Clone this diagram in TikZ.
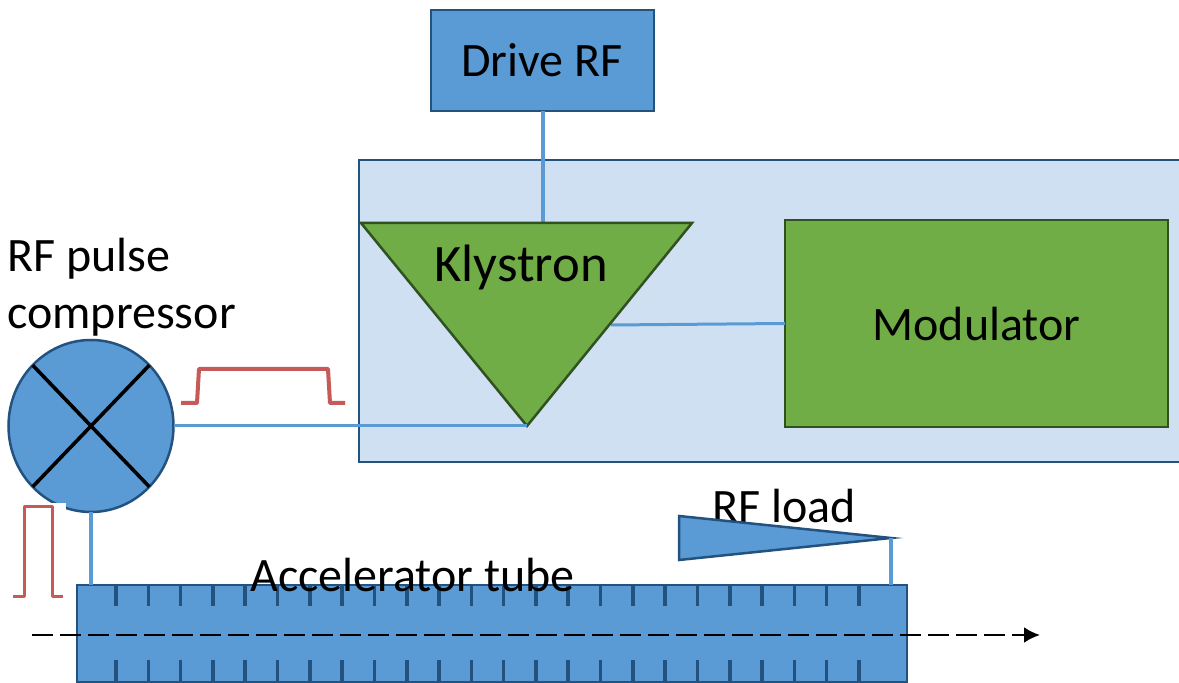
\documentclass[tikz,border=0pt]{standalone}
\usepackage{fontspec}
\setmainfont{Carlito}
\usetikzlibrary{shapes.geometric, arrows.meta}
\definecolor{rfblue}{HTML}{5B9BD5}
\definecolor{rfedge}{HTML}{24527F}
\definecolor{rfpanel}{HTML}{CEE0F2}
\definecolor{rfgreen}{HTML}{70AD47}
\definecolor{rfgreenedge}{HTML}{2F5220}
\definecolor{rfred}{HTML}{C55A56}
\tikzset{
  bluebox/.style={draw=rfedge, fill=rfblue, line width=1.25pt},
  greenbox/.style={draw=rfgreenedge, fill=rfgreen, line width=1.25pt},
  sizedbox/.style={rectangle, inner sep=0pt, outer sep=0pt},
  rfline/.style={draw=rfblue},
  pulseline/.style={draw=rfred, line join=round},
  tubetick/.style={draw=rfedge, line width=1.8pt},
  label/.style={font=\fontsize{24}{24}\selectfont, inner sep=0pt, text=black}
}

\begin{document}
\begin{tikzpicture}[x=0.5pt, y=-0.5pt]
\useasboundingbox (0,0) rectangle (1179,683);
% Klystron and modulator panel
\node[sizedbox, draw=rfedge, fill=rfpanel, line width=1.25pt, minimum width=420pt, minimum height=151pt] (panel) at (779,311) {};
\coordinate (klyLeft) at (361,223);
\coordinate (klyRight) at (692,223);
\coordinate (klyTip) at (527,426);
\coordinate (klyFeed) at (543,223);
\coordinate (klyOut) at (611,325);
% Drive and modulator boxes
\node[sizedbox, bluebox, minimum width=111.5pt, minimum height=50.5pt] (drive) at (542.5,60.5) {};
\node[sizedbox, greenbox, minimum width=191.5pt, minimum height=103.5pt] (modulator) at (976.5,323.5) {};
\node[label, anchor=base] (drivelabel) at (542,77) {Drive RF};
\node[label, anchor=base] (modlabel) at (976.5,341) {Modulator};
% Blue RF lines
\draw[rfline, line width=2pt] (drive.south -| klyFeed) -- (klyFeed);
\draw[rfline, line width=1.5pt] (klyOut) -- (modulator.west);
\draw[greenbox] (klyLeft) -- (klyRight) -- (klyTip) -- cycle;
\node[label, font=\fontsize{26.3}{26.3}\selectfont, anchor=base] (klystron) at (521,282) {Klystron};
% Pulse compressor
\node[ellipse, bluebox, minimum width=82.5pt, minimum height=86pt, inner sep=0pt, outer sep=0pt] (compressor) at (91,426) {};
\draw[black, line width=1.8pt] (compressor.north west) -- (compressor.south east);
\draw[black, line width=1.8pt] (compressor.north east) -- (compressor.south west);
\fill[white] (24,503) rectangle (66,510);
\draw[rfline, line width=1.5pt] (compressor.east) -- (klyTip);
\node[label, anchor=base west] (pulsetop) at (7,272) {RF pulse};
\node[label, anchor=base west] (pulsebot) at (7,329) {compressor};
% Red pulses
\draw[pulseline, line width=2pt] (181,403) -- (197,403) -- (199,369) -- (328,369) -- (330,403) -- (345,403);
\draw[pulseline, line width=1.5pt] (13,597) -- (24,597) -- (24,507) -- (52,507) -- (52,597) -- (63,597);
% Accelerator tube
\node[sizedbox, bluebox, minimum width=415pt, minimum height=48.5pt] (tube) at (492,633.5) {};
\foreach \i in {0,...,23} {
  \draw[tubetick] ({116+32.3*\i},585) -- ({116+32.3*\i},606);
  \draw[tubetick] ({116+32.3*\i},660) -- ({116+32.3*\i},682);
}
\node[label, anchor=base] (tubelabel) at (412.5,592) {Accelerator tube};
\draw[rfline, line width=2pt] (compressor.south) -- (compressor.south |- tube.north);
% RF load
\node[label, anchor=base] (loadlabel) at (784.5,523) {RF load};
\coordinate (loadTip) at (891,538);
\draw[bluebox] (679,516) -- (loadTip) -- (679,560) -- cycle;
\draw[rfline, line width=2pt] (loadTip) -- (loadTip |- tube.north);
% Beam axis
\coordinate (beamIn) at (32,635);
\coordinate (beamOut) at (1040,635);
\draw[-{Latex[length=8pt,width=8pt]}, black, line width=1.25pt, dash pattern=on 10.5pt off 3.5pt] (beamIn) -- (beamOut);
\end{tikzpicture}
\end{document}
